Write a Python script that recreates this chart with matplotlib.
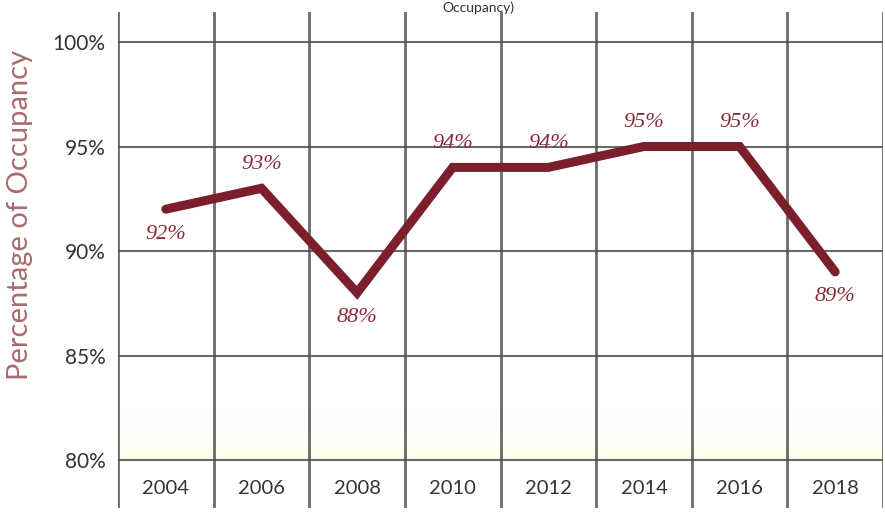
import numpy as np
import matplotlib
matplotlib.use("Agg")
import matplotlib.pyplot as plt
from matplotlib.colors import LinearSegmentedColormap

# Occupancy by year
years = ["2004", "2006", "2008", "2010", "2012", "2014", "2016", "2018"]
occupancy = [92, 93, 88, 94, 94, 95, 95, 89]
label_side = ["below", "above", "below", "above", "above", "above", "above", "below"]
y_ticks = [80, 85, 90, 95, 100]

LINE_RED = "#7c1f2c"
LABEL_RED = "#8a2b38"
GRID = "#505050"
TEXT = "#333333"

fig = plt.figure(figsize=(8.85, 5.17), dpi=100)
fig.patch.set_facecolor("white")

W, H = 885, 517
left, right, top, bottom = 118, 883, 12, 508
ax = fig.add_axes([left / W, 1 - bottom / H, (right - left) / W, (bottom - top) / H])

n = len(years)
ax.set_xlim(0, n)
px_per_unit = (460 - 42) / 20.0
ax.set_ylim(80 - 48 / px_per_unit, 100 + 30 / px_per_unit)

for s in ax.spines.values():
    s.set_visible(False)

# faint warm tint along the bottom of the plot area
grad = np.linspace(1, 0, 200).reshape(-1, 1)
tint = LinearSegmentedColormap.from_list("tint", [(1, 1, 1, 0), (0.99, 0.99, 0.85, 0.6)])
ax.imshow(grad, extent=(0, n, 80, 82.2), origin="lower", aspect="auto", cmap=tint, zorder=0)

# horizontal grid
for yv in y_ticks:
    ax.axhline(yv, color=GRID, lw=1.5, alpha=0.85, zorder=1)

# vertical category dividers
for i in range(n + 1):
    ax.axvline(i, color=GRID, lw=2.0, alpha=0.85, zorder=1)

x = np.arange(n) + 0.5
ax.plot(x, occupancy, color=LINE_RED, lw=6.5, solid_capstyle="round",
        solid_joinstyle="miter", zorder=3)

for xi, v, side in zip(x, occupancy, label_side):
    dy = 17 if side == "above" else -18
    ax.annotate(f"{v}%", (xi, v), xytext=(0, dy), textcoords="offset points",
                ha="center", va="center", color=LABEL_RED, fontsize=16,
                fontstyle="italic", family="Liberation Serif", zorder=4)

# y tick labels
ax.set_xticks([])
ax.set_yticks(y_ticks)
ax.set_yticklabels([f"{t}%" for t in y_ticks], fontsize=15, color=TEXT, family="Lato")
ax.tick_params(axis="y", length=0, pad=9)

# year labels under the grid
for xi, yr in zip(x, years):
    ax.text(xi, 80 - 28 / px_per_unit, yr, ha="center", va="center",
            fontsize=14.5, color=TEXT, family="Lato")

fig.text(20 / W, 1 - 215 / H, "Percentage of Occupancy", rotation=90,
         ha="center", va="center", fontsize=21, color="#a86c6c", family="Lato")

fig.text(478 / W, 1 - 1 / H, "Occupancy)", ha="center", va="top",
         fontsize=10, color=TEXT, family="Lato")

fig.savefig("out.png", dpi=100, facecolor="white")
